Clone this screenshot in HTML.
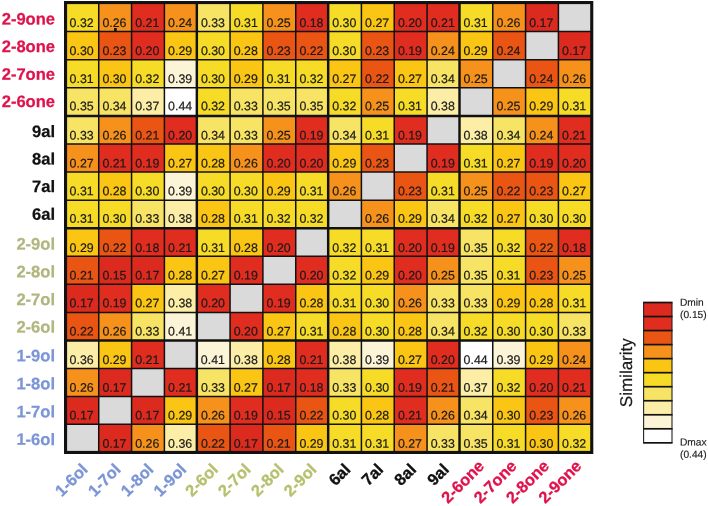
<!DOCTYPE html>
<html><head><meta charset="utf-8"><title>Similarity</title>
<style>html,body{margin:0;padding:0;background:#fff}svg{display:block}text{font-family:"Liberation Sans",Arial,sans-serif}</style></head><body>
<svg width="708" height="506" viewBox="0 0 708 506">
<rect width="708" height="506" fill="#fff"/>
<g shape-rendering="crispEdges">
<rect x="65.90" y="3.34" width="33.33" height="28.66" fill="#F6DC27"/>
<rect x="98.73" y="3.34" width="33.33" height="28.66" fill="#F6921C"/>
<rect x="131.57" y="3.34" width="33.33" height="28.66" fill="#E02D20"/>
<rect x="164.40" y="3.34" width="33.33" height="28.66" fill="#F6921C"/>
<rect x="197.24" y="3.34" width="33.33" height="28.66" fill="#F8E464"/>
<rect x="230.07" y="3.34" width="33.33" height="28.66" fill="#F6DC27"/>
<rect x="262.90" y="3.34" width="33.33" height="28.66" fill="#F6921C"/>
<rect x="295.74" y="3.34" width="33.33" height="28.66" fill="#E02D20"/>
<rect x="328.57" y="3.34" width="33.33" height="28.66" fill="#F6DC27"/>
<rect x="361.41" y="3.34" width="33.33" height="28.66" fill="#FBC513"/>
<rect x="394.24" y="3.34" width="33.33" height="28.66" fill="#E02D20"/>
<rect x="427.07" y="3.34" width="33.33" height="28.66" fill="#E02D20"/>
<rect x="459.91" y="3.34" width="33.33" height="28.66" fill="#F6DC27"/>
<rect x="492.74" y="3.34" width="33.33" height="28.66" fill="#F6921C"/>
<rect x="525.58" y="3.34" width="33.33" height="28.66" fill="#DC2B1E"/>
<rect x="558.41" y="3.34" width="33.33" height="28.66" fill="#D9DAD9"/>
<rect x="65.90" y="31.51" width="33.33" height="28.66" fill="#FBC513"/>
<rect x="98.73" y="31.51" width="33.33" height="28.66" fill="#EB5514"/>
<rect x="131.57" y="31.51" width="33.33" height="28.66" fill="#E02D20"/>
<rect x="164.40" y="31.51" width="33.33" height="28.66" fill="#FBC513"/>
<rect x="197.24" y="31.51" width="33.33" height="28.66" fill="#F6DC27"/>
<rect x="230.07" y="31.51" width="33.33" height="28.66" fill="#FBC513"/>
<rect x="262.90" y="31.51" width="33.33" height="28.66" fill="#EB5514"/>
<rect x="295.74" y="31.51" width="33.33" height="28.66" fill="#EB5514"/>
<rect x="328.57" y="31.51" width="33.33" height="28.66" fill="#F6DC27"/>
<rect x="361.41" y="31.51" width="33.33" height="28.66" fill="#EB5514"/>
<rect x="394.24" y="31.51" width="33.33" height="28.66" fill="#E02D20"/>
<rect x="427.07" y="31.51" width="33.33" height="28.66" fill="#F6921C"/>
<rect x="459.91" y="31.51" width="33.33" height="28.66" fill="#FBC513"/>
<rect x="492.74" y="31.51" width="33.33" height="28.66" fill="#EB5514"/>
<rect x="525.58" y="31.51" width="33.33" height="28.66" fill="#D9DAD9"/>
<rect x="558.41" y="31.51" width="33.33" height="28.66" fill="#DC2B1E"/>
<rect x="65.90" y="59.66" width="33.33" height="28.66" fill="#F6DC27"/>
<rect x="98.73" y="59.66" width="33.33" height="28.66" fill="#FBC513"/>
<rect x="131.57" y="59.66" width="33.33" height="28.66" fill="#F6DC27"/>
<rect x="164.40" y="59.66" width="33.33" height="28.66" fill="#FCF4D6"/>
<rect x="197.24" y="59.66" width="33.33" height="28.66" fill="#F6DC27"/>
<rect x="230.07" y="59.66" width="33.33" height="28.66" fill="#FBC513"/>
<rect x="262.90" y="59.66" width="33.33" height="28.66" fill="#F6DC27"/>
<rect x="295.74" y="59.66" width="33.33" height="28.66" fill="#F6DC27"/>
<rect x="328.57" y="59.66" width="33.33" height="28.66" fill="#FBC513"/>
<rect x="361.41" y="59.66" width="33.33" height="28.66" fill="#EB5514"/>
<rect x="394.24" y="59.66" width="33.33" height="28.66" fill="#FBC513"/>
<rect x="427.07" y="59.66" width="33.33" height="28.66" fill="#F8E464"/>
<rect x="459.91" y="59.66" width="33.33" height="28.66" fill="#F6921C"/>
<rect x="492.74" y="59.66" width="33.33" height="28.66" fill="#D9DAD9"/>
<rect x="525.58" y="59.66" width="33.33" height="28.66" fill="#EB5514"/>
<rect x="558.41" y="59.66" width="33.33" height="28.66" fill="#F6921C"/>
<rect x="65.90" y="87.79" width="33.33" height="28.66" fill="#F8E464"/>
<rect x="98.73" y="87.79" width="33.33" height="28.66" fill="#F8E464"/>
<rect x="131.57" y="87.79" width="33.33" height="28.66" fill="#FCEEA6"/>
<rect x="164.40" y="87.79" width="33.33" height="28.66" fill="#FFFFFF"/>
<rect x="197.24" y="87.79" width="33.33" height="28.66" fill="#F6DC27"/>
<rect x="230.07" y="87.79" width="33.33" height="28.66" fill="#F8E464"/>
<rect x="262.90" y="87.79" width="33.33" height="28.66" fill="#F8E464"/>
<rect x="295.74" y="87.79" width="33.33" height="28.66" fill="#F8E464"/>
<rect x="328.57" y="87.79" width="33.33" height="28.66" fill="#F6DC27"/>
<rect x="361.41" y="87.79" width="33.33" height="28.66" fill="#F6921C"/>
<rect x="394.24" y="87.79" width="33.33" height="28.66" fill="#F6DC27"/>
<rect x="427.07" y="87.79" width="33.33" height="28.66" fill="#FCEEA6"/>
<rect x="459.91" y="87.79" width="33.33" height="28.66" fill="#D9DAD9"/>
<rect x="492.74" y="87.79" width="33.33" height="28.66" fill="#F6921C"/>
<rect x="525.58" y="87.79" width="33.33" height="28.66" fill="#FBC513"/>
<rect x="558.41" y="87.79" width="33.33" height="28.66" fill="#F6DC27"/>
<rect x="65.90" y="115.92" width="33.33" height="28.66" fill="#F8E464"/>
<rect x="98.73" y="115.92" width="33.33" height="28.66" fill="#F6921C"/>
<rect x="131.57" y="115.92" width="33.33" height="28.66" fill="#EB5514"/>
<rect x="164.40" y="115.92" width="33.33" height="28.66" fill="#E02D20"/>
<rect x="197.24" y="115.92" width="33.33" height="28.66" fill="#F8E464"/>
<rect x="230.07" y="115.92" width="33.33" height="28.66" fill="#F8E464"/>
<rect x="262.90" y="115.92" width="33.33" height="28.66" fill="#F6921C"/>
<rect x="295.74" y="115.92" width="33.33" height="28.66" fill="#E02D20"/>
<rect x="328.57" y="115.92" width="33.33" height="28.66" fill="#F8E464"/>
<rect x="361.41" y="115.92" width="33.33" height="28.66" fill="#F6DC27"/>
<rect x="394.24" y="115.92" width="33.33" height="28.66" fill="#E02D20"/>
<rect x="427.07" y="115.92" width="33.33" height="28.66" fill="#D9DAD9"/>
<rect x="459.91" y="115.92" width="33.33" height="28.66" fill="#FCEEA6"/>
<rect x="492.74" y="115.92" width="33.33" height="28.66" fill="#F8E464"/>
<rect x="525.58" y="115.92" width="33.33" height="28.66" fill="#F6921C"/>
<rect x="558.41" y="115.92" width="33.33" height="28.66" fill="#E02D20"/>
<rect x="65.90" y="144.03" width="33.33" height="28.66" fill="#F6921C"/>
<rect x="98.73" y="144.03" width="33.33" height="28.66" fill="#E02D20"/>
<rect x="131.57" y="144.03" width="33.33" height="28.66" fill="#E02D20"/>
<rect x="164.40" y="144.03" width="33.33" height="28.66" fill="#FBC513"/>
<rect x="197.24" y="144.03" width="33.33" height="28.66" fill="#FBC513"/>
<rect x="230.07" y="144.03" width="33.33" height="28.66" fill="#F6921C"/>
<rect x="262.90" y="144.03" width="33.33" height="28.66" fill="#E02D20"/>
<rect x="295.74" y="144.03" width="33.33" height="28.66" fill="#E02D20"/>
<rect x="328.57" y="144.03" width="33.33" height="28.66" fill="#FBC513"/>
<rect x="361.41" y="144.03" width="33.33" height="28.66" fill="#EB5514"/>
<rect x="394.24" y="144.03" width="33.33" height="28.66" fill="#D9DAD9"/>
<rect x="427.07" y="144.03" width="33.33" height="28.66" fill="#E02D20"/>
<rect x="459.91" y="144.03" width="33.33" height="28.66" fill="#F6DC27"/>
<rect x="492.74" y="144.03" width="33.33" height="28.66" fill="#FBC513"/>
<rect x="525.58" y="144.03" width="33.33" height="28.66" fill="#E02D20"/>
<rect x="558.41" y="144.03" width="33.33" height="28.66" fill="#E02D20"/>
<rect x="65.90" y="172.12" width="33.33" height="28.66" fill="#F6DC27"/>
<rect x="98.73" y="172.12" width="33.33" height="28.66" fill="#FBC513"/>
<rect x="131.57" y="172.12" width="33.33" height="28.66" fill="#F6DC27"/>
<rect x="164.40" y="172.12" width="33.33" height="28.66" fill="#FCF4D6"/>
<rect x="197.24" y="172.12" width="33.33" height="28.66" fill="#F6DC27"/>
<rect x="230.07" y="172.12" width="33.33" height="28.66" fill="#F6DC27"/>
<rect x="262.90" y="172.12" width="33.33" height="28.66" fill="#FBC513"/>
<rect x="295.74" y="172.12" width="33.33" height="28.66" fill="#F6DC27"/>
<rect x="328.57" y="172.12" width="33.33" height="28.66" fill="#F6921C"/>
<rect x="361.41" y="172.12" width="33.33" height="28.66" fill="#D9DAD9"/>
<rect x="394.24" y="172.12" width="33.33" height="28.66" fill="#EB5514"/>
<rect x="427.07" y="172.12" width="33.33" height="28.66" fill="#F6DC27"/>
<rect x="459.91" y="172.12" width="33.33" height="28.66" fill="#F6921C"/>
<rect x="492.74" y="172.12" width="33.33" height="28.66" fill="#EB5514"/>
<rect x="525.58" y="172.12" width="33.33" height="28.66" fill="#EB5514"/>
<rect x="558.41" y="172.12" width="33.33" height="28.66" fill="#FBC513"/>
<rect x="65.90" y="200.20" width="33.33" height="28.66" fill="#F6DC27"/>
<rect x="98.73" y="200.20" width="33.33" height="28.66" fill="#F6DC27"/>
<rect x="131.57" y="200.20" width="33.33" height="28.66" fill="#F8E464"/>
<rect x="164.40" y="200.20" width="33.33" height="28.66" fill="#FCEEA6"/>
<rect x="197.24" y="200.20" width="33.33" height="28.66" fill="#FBC513"/>
<rect x="230.07" y="200.20" width="33.33" height="28.66" fill="#F6DC27"/>
<rect x="262.90" y="200.20" width="33.33" height="28.66" fill="#F6DC27"/>
<rect x="295.74" y="200.20" width="33.33" height="28.66" fill="#F6DC27"/>
<rect x="328.57" y="200.20" width="33.33" height="28.66" fill="#D9DAD9"/>
<rect x="361.41" y="200.20" width="33.33" height="28.66" fill="#F6921C"/>
<rect x="394.24" y="200.20" width="33.33" height="28.66" fill="#FBC513"/>
<rect x="427.07" y="200.20" width="33.33" height="28.66" fill="#F8E464"/>
<rect x="459.91" y="200.20" width="33.33" height="28.66" fill="#F6DC27"/>
<rect x="492.74" y="200.20" width="33.33" height="28.66" fill="#FBC513"/>
<rect x="525.58" y="200.20" width="33.33" height="28.66" fill="#F6DC27"/>
<rect x="558.41" y="200.20" width="33.33" height="28.66" fill="#F6DC27"/>
<rect x="65.90" y="228.27" width="33.33" height="28.66" fill="#FBC513"/>
<rect x="98.73" y="228.27" width="33.33" height="28.66" fill="#EB5514"/>
<rect x="131.57" y="228.27" width="33.33" height="28.66" fill="#E02D20"/>
<rect x="164.40" y="228.27" width="33.33" height="28.66" fill="#E02D20"/>
<rect x="197.24" y="228.27" width="33.33" height="28.66" fill="#F6DC27"/>
<rect x="230.07" y="228.27" width="33.33" height="28.66" fill="#FBC513"/>
<rect x="262.90" y="228.27" width="33.33" height="28.66" fill="#E02D20"/>
<rect x="295.74" y="228.27" width="33.33" height="28.66" fill="#D9DAD9"/>
<rect x="328.57" y="228.27" width="33.33" height="28.66" fill="#F6DC27"/>
<rect x="361.41" y="228.27" width="33.33" height="28.66" fill="#F6DC27"/>
<rect x="394.24" y="228.27" width="33.33" height="28.66" fill="#E02D20"/>
<rect x="427.07" y="228.27" width="33.33" height="28.66" fill="#E02D20"/>
<rect x="459.91" y="228.27" width="33.33" height="28.66" fill="#F8E464"/>
<rect x="492.74" y="228.27" width="33.33" height="28.66" fill="#F6DC27"/>
<rect x="525.58" y="228.27" width="33.33" height="28.66" fill="#EB5514"/>
<rect x="558.41" y="228.27" width="33.33" height="28.66" fill="#E02D20"/>
<rect x="65.90" y="256.32" width="33.33" height="28.66" fill="#EB5514"/>
<rect x="98.73" y="256.32" width="33.33" height="28.66" fill="#DC2B1E"/>
<rect x="131.57" y="256.32" width="33.33" height="28.66" fill="#DC2B1E"/>
<rect x="164.40" y="256.32" width="33.33" height="28.66" fill="#FBC513"/>
<rect x="197.24" y="256.32" width="33.33" height="28.66" fill="#FBC513"/>
<rect x="230.07" y="256.32" width="33.33" height="28.66" fill="#E02D20"/>
<rect x="262.90" y="256.32" width="33.33" height="28.66" fill="#D9DAD9"/>
<rect x="295.74" y="256.32" width="33.33" height="28.66" fill="#E02D20"/>
<rect x="328.57" y="256.32" width="33.33" height="28.66" fill="#F6DC27"/>
<rect x="361.41" y="256.32" width="33.33" height="28.66" fill="#FBC513"/>
<rect x="394.24" y="256.32" width="33.33" height="28.66" fill="#E02D20"/>
<rect x="427.07" y="256.32" width="33.33" height="28.66" fill="#F6921C"/>
<rect x="459.91" y="256.32" width="33.33" height="28.66" fill="#F8E464"/>
<rect x="492.74" y="256.32" width="33.33" height="28.66" fill="#F6DC27"/>
<rect x="525.58" y="256.32" width="33.33" height="28.66" fill="#EB5514"/>
<rect x="558.41" y="256.32" width="33.33" height="28.66" fill="#F6921C"/>
<rect x="65.90" y="284.36" width="33.33" height="28.66" fill="#DC2B1E"/>
<rect x="98.73" y="284.36" width="33.33" height="28.66" fill="#E02D20"/>
<rect x="131.57" y="284.36" width="33.33" height="28.66" fill="#FBC513"/>
<rect x="164.40" y="284.36" width="33.33" height="28.66" fill="#FCEEA6"/>
<rect x="197.24" y="284.36" width="33.33" height="28.66" fill="#E02D20"/>
<rect x="230.07" y="284.36" width="33.33" height="28.66" fill="#D9DAD9"/>
<rect x="262.90" y="284.36" width="33.33" height="28.66" fill="#E02D20"/>
<rect x="295.74" y="284.36" width="33.33" height="28.66" fill="#FBC513"/>
<rect x="328.57" y="284.36" width="33.33" height="28.66" fill="#F6DC27"/>
<rect x="361.41" y="284.36" width="33.33" height="28.66" fill="#F6DC27"/>
<rect x="394.24" y="284.36" width="33.33" height="28.66" fill="#F6921C"/>
<rect x="427.07" y="284.36" width="33.33" height="28.66" fill="#F8E464"/>
<rect x="459.91" y="284.36" width="33.33" height="28.66" fill="#F8E464"/>
<rect x="492.74" y="284.36" width="33.33" height="28.66" fill="#FBC513"/>
<rect x="525.58" y="284.36" width="33.33" height="28.66" fill="#FBC513"/>
<rect x="558.41" y="284.36" width="33.33" height="28.66" fill="#F6DC27"/>
<rect x="65.90" y="312.39" width="33.33" height="28.66" fill="#EB5514"/>
<rect x="98.73" y="312.39" width="33.33" height="28.66" fill="#F6921C"/>
<rect x="131.57" y="312.39" width="33.33" height="28.66" fill="#F8E464"/>
<rect x="164.40" y="312.39" width="33.33" height="28.66" fill="#FCF4D6"/>
<rect x="197.24" y="312.39" width="33.33" height="28.66" fill="#D9DAD9"/>
<rect x="230.07" y="312.39" width="33.33" height="28.66" fill="#E02D20"/>
<rect x="262.90" y="312.39" width="33.33" height="28.66" fill="#FBC513"/>
<rect x="295.74" y="312.39" width="33.33" height="28.66" fill="#F6DC27"/>
<rect x="328.57" y="312.39" width="33.33" height="28.66" fill="#FBC513"/>
<rect x="361.41" y="312.39" width="33.33" height="28.66" fill="#F6DC27"/>
<rect x="394.24" y="312.39" width="33.33" height="28.66" fill="#FBC513"/>
<rect x="427.07" y="312.39" width="33.33" height="28.66" fill="#F8E464"/>
<rect x="459.91" y="312.39" width="33.33" height="28.66" fill="#F6DC27"/>
<rect x="492.74" y="312.39" width="33.33" height="28.66" fill="#F6DC27"/>
<rect x="525.58" y="312.39" width="33.33" height="28.66" fill="#F6DC27"/>
<rect x="558.41" y="312.39" width="33.33" height="28.66" fill="#F8E464"/>
<rect x="65.90" y="340.40" width="33.33" height="28.66" fill="#FCEEA6"/>
<rect x="98.73" y="340.40" width="33.33" height="28.66" fill="#FBC513"/>
<rect x="131.57" y="340.40" width="33.33" height="28.66" fill="#E02D20"/>
<rect x="164.40" y="340.40" width="33.33" height="28.66" fill="#D9DAD9"/>
<rect x="197.24" y="340.40" width="33.33" height="28.66" fill="#FCF4D6"/>
<rect x="230.07" y="340.40" width="33.33" height="28.66" fill="#FCEEA6"/>
<rect x="262.90" y="340.40" width="33.33" height="28.66" fill="#FBC513"/>
<rect x="295.74" y="340.40" width="33.33" height="28.66" fill="#E02D20"/>
<rect x="328.57" y="340.40" width="33.33" height="28.66" fill="#FCEEA6"/>
<rect x="361.41" y="340.40" width="33.33" height="28.66" fill="#FCF4D6"/>
<rect x="394.24" y="340.40" width="33.33" height="28.66" fill="#FBC513"/>
<rect x="427.07" y="340.40" width="33.33" height="28.66" fill="#E02D20"/>
<rect x="459.91" y="340.40" width="33.33" height="28.66" fill="#FFFFFF"/>
<rect x="492.74" y="340.40" width="33.33" height="28.66" fill="#FCF4D6"/>
<rect x="525.58" y="340.40" width="33.33" height="28.66" fill="#FBC513"/>
<rect x="558.41" y="340.40" width="33.33" height="28.66" fill="#F6921C"/>
<rect x="65.90" y="368.39" width="33.33" height="28.66" fill="#F6921C"/>
<rect x="98.73" y="368.39" width="33.33" height="28.66" fill="#DC2B1E"/>
<rect x="131.57" y="368.39" width="33.33" height="28.66" fill="#D9DAD9"/>
<rect x="164.40" y="368.39" width="33.33" height="28.66" fill="#E02D20"/>
<rect x="197.24" y="368.39" width="33.33" height="28.66" fill="#F8E464"/>
<rect x="230.07" y="368.39" width="33.33" height="28.66" fill="#FBC513"/>
<rect x="262.90" y="368.39" width="33.33" height="28.66" fill="#DC2B1E"/>
<rect x="295.74" y="368.39" width="33.33" height="28.66" fill="#E02D20"/>
<rect x="328.57" y="368.39" width="33.33" height="28.66" fill="#F8E464"/>
<rect x="361.41" y="368.39" width="33.33" height="28.66" fill="#F6DC27"/>
<rect x="394.24" y="368.39" width="33.33" height="28.66" fill="#E02D20"/>
<rect x="427.07" y="368.39" width="33.33" height="28.66" fill="#EB5514"/>
<rect x="459.91" y="368.39" width="33.33" height="28.66" fill="#FCEEA6"/>
<rect x="492.74" y="368.39" width="33.33" height="28.66" fill="#F6DC27"/>
<rect x="525.58" y="368.39" width="33.33" height="28.66" fill="#E02D20"/>
<rect x="558.41" y="368.39" width="33.33" height="28.66" fill="#E02D20"/>
<rect x="65.90" y="396.38" width="33.33" height="28.66" fill="#DC2B1E"/>
<rect x="98.73" y="396.38" width="33.33" height="28.66" fill="#D9DAD9"/>
<rect x="131.57" y="396.38" width="33.33" height="28.66" fill="#DC2B1E"/>
<rect x="164.40" y="396.38" width="33.33" height="28.66" fill="#FBC513"/>
<rect x="197.24" y="396.38" width="33.33" height="28.66" fill="#F6921C"/>
<rect x="230.07" y="396.38" width="33.33" height="28.66" fill="#E02D20"/>
<rect x="262.90" y="396.38" width="33.33" height="28.66" fill="#DC2B1E"/>
<rect x="295.74" y="396.38" width="33.33" height="28.66" fill="#EB5514"/>
<rect x="328.57" y="396.38" width="33.33" height="28.66" fill="#F6DC27"/>
<rect x="361.41" y="396.38" width="33.33" height="28.66" fill="#FBC513"/>
<rect x="394.24" y="396.38" width="33.33" height="28.66" fill="#E02D20"/>
<rect x="427.07" y="396.38" width="33.33" height="28.66" fill="#F6921C"/>
<rect x="459.91" y="396.38" width="33.33" height="28.66" fill="#F8E464"/>
<rect x="492.74" y="396.38" width="33.33" height="28.66" fill="#FBC513"/>
<rect x="525.58" y="396.38" width="33.33" height="28.66" fill="#EB5514"/>
<rect x="558.41" y="396.38" width="33.33" height="28.66" fill="#F6921C"/>
<rect x="65.90" y="424.35" width="33.33" height="28.66" fill="#D9DAD9"/>
<rect x="98.73" y="424.35" width="33.33" height="28.66" fill="#DC2B1E"/>
<rect x="131.57" y="424.35" width="33.33" height="28.66" fill="#F6921C"/>
<rect x="164.40" y="424.35" width="33.33" height="28.66" fill="#FCEEA6"/>
<rect x="197.24" y="424.35" width="33.33" height="28.66" fill="#EB5514"/>
<rect x="230.07" y="424.35" width="33.33" height="28.66" fill="#DC2B1E"/>
<rect x="262.90" y="424.35" width="33.33" height="28.66" fill="#EB5514"/>
<rect x="295.74" y="424.35" width="33.33" height="28.66" fill="#FBC513"/>
<rect x="328.57" y="424.35" width="33.33" height="28.66" fill="#F6DC27"/>
<rect x="361.41" y="424.35" width="33.33" height="28.66" fill="#F6DC27"/>
<rect x="394.24" y="424.35" width="33.33" height="28.66" fill="#F6921C"/>
<rect x="427.07" y="424.35" width="33.33" height="28.66" fill="#F8E464"/>
<rect x="459.91" y="424.35" width="33.33" height="28.66" fill="#F8E464"/>
<rect x="492.74" y="424.35" width="33.33" height="28.66" fill="#F6DC27"/>
<rect x="525.58" y="424.35" width="33.33" height="28.66" fill="#FBC513"/>
<rect x="558.41" y="424.35" width="33.33" height="28.66" fill="#F6DC27"/>
</g>
<g stroke="#111" stroke-width="1.5">
<line x1="98.73" y1="3.34" x2="98.73" y2="452.29999999999995"/>
<line x1="65.9" y1="31.51" x2="591.244" y2="31.51"/>
<line x1="131.57" y1="3.34" x2="131.57" y2="452.29999999999995"/>
<line x1="65.9" y1="59.66" x2="591.244" y2="59.66"/>
<line x1="164.40" y1="3.34" x2="164.40" y2="452.29999999999995"/>
<line x1="65.9" y1="87.79" x2="591.244" y2="87.79"/>
<line x1="230.07" y1="3.34" x2="230.07" y2="452.29999999999995"/>
<line x1="65.9" y1="144.03" x2="591.244" y2="144.03"/>
<line x1="262.90" y1="3.34" x2="262.90" y2="452.29999999999995"/>
<line x1="65.9" y1="172.12" x2="591.244" y2="172.12"/>
<line x1="295.74" y1="3.34" x2="295.74" y2="452.29999999999995"/>
<line x1="65.9" y1="200.20" x2="591.244" y2="200.20"/>
<line x1="361.41" y1="3.34" x2="361.41" y2="452.29999999999995"/>
<line x1="65.9" y1="256.32" x2="591.244" y2="256.32"/>
<line x1="394.24" y1="3.34" x2="394.24" y2="452.29999999999995"/>
<line x1="65.9" y1="284.36" x2="591.244" y2="284.36"/>
<line x1="427.07" y1="3.34" x2="427.07" y2="452.29999999999995"/>
<line x1="65.9" y1="312.39" x2="591.244" y2="312.39"/>
<line x1="492.74" y1="3.34" x2="492.74" y2="452.29999999999995"/>
<line x1="65.9" y1="368.39" x2="591.244" y2="368.39"/>
<line x1="525.58" y1="3.34" x2="525.58" y2="452.29999999999995"/>
<line x1="65.9" y1="396.38" x2="591.244" y2="396.38"/>
<line x1="558.41" y1="3.34" x2="558.41" y2="452.29999999999995"/>
<line x1="65.9" y1="424.35" x2="591.244" y2="424.35"/>
</g>
<g stroke="#111" stroke-width="2.45">
<line x1="196.84" y1="3.34" x2="196.84" y2="452.29999999999995"/>
<line x1="65.9" y1="115.92" x2="591.244" y2="115.92"/>
<line x1="328.17" y1="3.34" x2="328.17" y2="452.29999999999995"/>
<line x1="65.9" y1="228.27" x2="591.244" y2="228.27"/>
<line x1="459.51" y1="3.34" x2="459.51" y2="452.29999999999995"/>
<line x1="65.9" y1="340.40" x2="591.244" y2="340.40"/>
</g>
<rect x="65.55" y="2.55" width="526.20" height="449.90" fill="none" stroke="#111" stroke-width="3.1"/>
<g font-size="12.4" fill="#1a1a1a" stroke="#1a1a1a" stroke-width="0.2" text-anchor="middle">
<text x="81.62" y="27.10" transform="rotate(0.03 81.62 27.10)">0.32</text>
<text x="114.45" y="27.10" transform="rotate(0.03 114.45 27.10)">0.26</text>
<text x="147.29" y="27.10" transform="rotate(0.03 147.29 27.10)">0.21</text>
<text x="180.12" y="27.10" transform="rotate(0.03 180.12 27.10)">0.24</text>
<text x="212.95" y="27.10" transform="rotate(0.03 212.95 27.10)">0.33</text>
<text x="245.79" y="27.10" transform="rotate(0.03 245.79 27.10)">0.31</text>
<text x="278.62" y="27.10" transform="rotate(0.03 278.62 27.10)">0.25</text>
<text x="311.46" y="27.10" transform="rotate(0.03 311.46 27.10)">0.18</text>
<text x="344.29" y="27.10" transform="rotate(0.03 344.29 27.10)">0.30</text>
<text x="377.12" y="27.10" transform="rotate(0.03 377.12 27.10)">0.27</text>
<text x="409.96" y="27.10" transform="rotate(0.03 409.96 27.10)">0.20</text>
<text x="442.79" y="27.10" transform="rotate(0.03 442.79 27.10)">0.21</text>
<text x="475.63" y="27.10" transform="rotate(0.03 475.63 27.10)">0.31</text>
<text x="508.46" y="27.10" transform="rotate(0.03 508.46 27.10)">0.26</text>
<text x="541.29" y="27.10" transform="rotate(0.03 541.29 27.10)">0.17</text>
<text x="81.62" y="54.90" transform="rotate(0.03 81.62 54.90)">0.30</text>
<text x="114.45" y="54.90" transform="rotate(0.03 114.45 54.90)">0.23</text>
<text x="147.29" y="54.90" transform="rotate(0.03 147.29 54.90)">0.20</text>
<text x="180.12" y="54.90" transform="rotate(0.03 180.12 54.90)">0.29</text>
<text x="212.95" y="54.90" transform="rotate(0.03 212.95 54.90)">0.30</text>
<text x="245.79" y="54.90" transform="rotate(0.03 245.79 54.90)">0.28</text>
<text x="278.62" y="54.90" transform="rotate(0.03 278.62 54.90)">0.23</text>
<text x="311.46" y="54.90" transform="rotate(0.03 311.46 54.90)">0.22</text>
<text x="344.29" y="54.90" transform="rotate(0.03 344.29 54.90)">0.30</text>
<text x="377.12" y="54.90" transform="rotate(0.03 377.12 54.90)">0.23</text>
<text x="409.96" y="54.90" transform="rotate(0.03 409.96 54.90)">0.19</text>
<text x="442.79" y="54.90" transform="rotate(0.03 442.79 54.90)">0.24</text>
<text x="475.63" y="54.90" transform="rotate(0.03 475.63 54.90)">0.29</text>
<text x="508.46" y="54.90" transform="rotate(0.03 508.46 54.90)">0.24</text>
<text x="574.13" y="54.90" transform="rotate(0.03 574.13 54.90)">0.17</text>
<text x="81.62" y="82.90" transform="rotate(0.03 81.62 82.90)">0.31</text>
<text x="114.45" y="82.90" transform="rotate(0.03 114.45 82.90)">0.30</text>
<text x="147.29" y="82.90" transform="rotate(0.03 147.29 82.90)">0.32</text>
<text x="180.12" y="82.90" transform="rotate(0.03 180.12 82.90)">0.39</text>
<text x="212.95" y="82.90" transform="rotate(0.03 212.95 82.90)">0.30</text>
<text x="245.79" y="82.90" transform="rotate(0.03 245.79 82.90)">0.29</text>
<text x="278.62" y="82.90" transform="rotate(0.03 278.62 82.90)">0.31</text>
<text x="311.46" y="82.90" transform="rotate(0.03 311.46 82.90)">0.32</text>
<text x="344.29" y="82.90" transform="rotate(0.03 344.29 82.90)">0.27</text>
<text x="377.12" y="82.90" transform="rotate(0.03 377.12 82.90)">0.22</text>
<text x="409.96" y="82.90" transform="rotate(0.03 409.96 82.90)">0.27</text>
<text x="442.79" y="82.90" transform="rotate(0.03 442.79 82.90)">0.34</text>
<text x="475.63" y="82.90" transform="rotate(0.03 475.63 82.90)">0.25</text>
<text x="541.29" y="82.90" transform="rotate(0.03 541.29 82.90)">0.24</text>
<text x="574.13" y="82.90" transform="rotate(0.03 574.13 82.90)">0.26</text>
<text x="81.62" y="110.30" transform="rotate(0.03 81.62 110.30)">0.35</text>
<text x="114.45" y="110.30" transform="rotate(0.03 114.45 110.30)">0.34</text>
<text x="147.29" y="110.30" transform="rotate(0.03 147.29 110.30)">0.37</text>
<text x="180.12" y="110.30" transform="rotate(0.03 180.12 110.30)">0.44</text>
<text x="212.95" y="110.30" transform="rotate(0.03 212.95 110.30)">0.32</text>
<text x="245.79" y="110.30" transform="rotate(0.03 245.79 110.30)">0.33</text>
<text x="278.62" y="110.30" transform="rotate(0.03 278.62 110.30)">0.35</text>
<text x="311.46" y="110.30" transform="rotate(0.03 311.46 110.30)">0.35</text>
<text x="344.29" y="110.30" transform="rotate(0.03 344.29 110.30)">0.32</text>
<text x="377.12" y="110.30" transform="rotate(0.03 377.12 110.30)">0.25</text>
<text x="409.96" y="110.30" transform="rotate(0.03 409.96 110.30)">0.31</text>
<text x="442.79" y="110.30" transform="rotate(0.03 442.79 110.30)">0.38</text>
<text x="508.46" y="110.30" transform="rotate(0.03 508.46 110.30)">0.25</text>
<text x="541.29" y="110.30" transform="rotate(0.03 541.29 110.30)">0.29</text>
<text x="574.13" y="110.30" transform="rotate(0.03 574.13 110.30)">0.31</text>
<text x="81.62" y="139.60" transform="rotate(0.03 81.62 139.60)">0.33</text>
<text x="114.45" y="139.60" transform="rotate(0.03 114.45 139.60)">0.26</text>
<text x="147.29" y="139.60" transform="rotate(0.03 147.29 139.60)">0.21</text>
<text x="180.12" y="139.60" transform="rotate(0.03 180.12 139.60)">0.20</text>
<text x="212.95" y="139.60" transform="rotate(0.03 212.95 139.60)">0.34</text>
<text x="245.79" y="139.60" transform="rotate(0.03 245.79 139.60)">0.33</text>
<text x="278.62" y="139.60" transform="rotate(0.03 278.62 139.60)">0.25</text>
<text x="311.46" y="139.60" transform="rotate(0.03 311.46 139.60)">0.19</text>
<text x="344.29" y="139.60" transform="rotate(0.03 344.29 139.60)">0.34</text>
<text x="377.12" y="139.60" transform="rotate(0.03 377.12 139.60)">0.31</text>
<text x="409.96" y="139.60" transform="rotate(0.03 409.96 139.60)">0.19</text>
<text x="475.63" y="139.60" transform="rotate(0.03 475.63 139.60)">0.38</text>
<text x="508.46" y="139.60" transform="rotate(0.03 508.46 139.60)">0.34</text>
<text x="541.29" y="139.60" transform="rotate(0.03 541.29 139.60)">0.24</text>
<text x="574.13" y="139.60" transform="rotate(0.03 574.13 139.60)">0.21</text>
<text x="81.62" y="167.50" transform="rotate(0.03 81.62 167.50)">0.27</text>
<text x="114.45" y="167.50" transform="rotate(0.03 114.45 167.50)">0.21</text>
<text x="147.29" y="167.50" transform="rotate(0.03 147.29 167.50)">0.19</text>
<text x="180.12" y="167.50" transform="rotate(0.03 180.12 167.50)">0.27</text>
<text x="212.95" y="167.50" transform="rotate(0.03 212.95 167.50)">0.28</text>
<text x="245.79" y="167.50" transform="rotate(0.03 245.79 167.50)">0.26</text>
<text x="278.62" y="167.50" transform="rotate(0.03 278.62 167.50)">0.20</text>
<text x="311.46" y="167.50" transform="rotate(0.03 311.46 167.50)">0.20</text>
<text x="344.29" y="167.50" transform="rotate(0.03 344.29 167.50)">0.29</text>
<text x="377.12" y="167.50" transform="rotate(0.03 377.12 167.50)">0.23</text>
<text x="442.79" y="167.50" transform="rotate(0.03 442.79 167.50)">0.19</text>
<text x="475.63" y="167.50" transform="rotate(0.03 475.63 167.50)">0.31</text>
<text x="508.46" y="167.50" transform="rotate(0.03 508.46 167.50)">0.27</text>
<text x="541.29" y="167.50" transform="rotate(0.03 541.29 167.50)">0.19</text>
<text x="574.13" y="167.50" transform="rotate(0.03 574.13 167.50)">0.20</text>
<text x="81.62" y="195.35" transform="rotate(0.03 81.62 195.35)">0.31</text>
<text x="114.45" y="195.35" transform="rotate(0.03 114.45 195.35)">0.28</text>
<text x="147.29" y="195.35" transform="rotate(0.03 147.29 195.35)">0.30</text>
<text x="180.12" y="195.35" transform="rotate(0.03 180.12 195.35)">0.39</text>
<text x="212.95" y="195.35" transform="rotate(0.03 212.95 195.35)">0.30</text>
<text x="245.79" y="195.35" transform="rotate(0.03 245.79 195.35)">0.30</text>
<text x="278.62" y="195.35" transform="rotate(0.03 278.62 195.35)">0.29</text>
<text x="311.46" y="195.35" transform="rotate(0.03 311.46 195.35)">0.31</text>
<text x="344.29" y="195.35" transform="rotate(0.03 344.29 195.35)">0.26</text>
<text x="409.96" y="195.35" transform="rotate(0.03 409.96 195.35)">0.23</text>
<text x="442.79" y="195.35" transform="rotate(0.03 442.79 195.35)">0.31</text>
<text x="475.63" y="195.35" transform="rotate(0.03 475.63 195.35)">0.25</text>
<text x="508.46" y="195.35" transform="rotate(0.03 508.46 195.35)">0.22</text>
<text x="541.29" y="195.35" transform="rotate(0.03 541.29 195.35)">0.23</text>
<text x="574.13" y="195.35" transform="rotate(0.03 574.13 195.35)">0.27</text>
<text x="81.62" y="222.70" transform="rotate(0.03 81.62 222.70)">0.31</text>
<text x="114.45" y="222.70" transform="rotate(0.03 114.45 222.70)">0.30</text>
<text x="147.29" y="222.70" transform="rotate(0.03 147.29 222.70)">0.33</text>
<text x="180.12" y="222.70" transform="rotate(0.03 180.12 222.70)">0.38</text>
<text x="212.95" y="222.70" transform="rotate(0.03 212.95 222.70)">0.28</text>
<text x="245.79" y="222.70" transform="rotate(0.03 245.79 222.70)">0.31</text>
<text x="278.62" y="222.70" transform="rotate(0.03 278.62 222.70)">0.32</text>
<text x="311.46" y="222.70" transform="rotate(0.03 311.46 222.70)">0.32</text>
<text x="377.12" y="222.70" transform="rotate(0.03 377.12 222.70)">0.26</text>
<text x="409.96" y="222.70" transform="rotate(0.03 409.96 222.70)">0.29</text>
<text x="442.79" y="222.70" transform="rotate(0.03 442.79 222.70)">0.34</text>
<text x="475.63" y="222.70" transform="rotate(0.03 475.63 222.70)">0.32</text>
<text x="508.46" y="222.70" transform="rotate(0.03 508.46 222.70)">0.27</text>
<text x="541.29" y="222.70" transform="rotate(0.03 541.29 222.70)">0.30</text>
<text x="574.13" y="222.70" transform="rotate(0.03 574.13 222.70)">0.30</text>
<text x="81.62" y="251.90" transform="rotate(0.03 81.62 251.90)">0.29</text>
<text x="114.45" y="251.90" transform="rotate(0.03 114.45 251.90)">0.22</text>
<text x="147.29" y="251.90" transform="rotate(0.03 147.29 251.90)">0.18</text>
<text x="180.12" y="251.90" transform="rotate(0.03 180.12 251.90)">0.21</text>
<text x="212.95" y="251.90" transform="rotate(0.03 212.95 251.90)">0.31</text>
<text x="245.79" y="251.90" transform="rotate(0.03 245.79 251.90)">0.28</text>
<text x="278.62" y="251.90" transform="rotate(0.03 278.62 251.90)">0.20</text>
<text x="344.29" y="251.90" transform="rotate(0.03 344.29 251.90)">0.32</text>
<text x="377.12" y="251.90" transform="rotate(0.03 377.12 251.90)">0.31</text>
<text x="409.96" y="251.90" transform="rotate(0.03 409.96 251.90)">0.20</text>
<text x="442.79" y="251.90" transform="rotate(0.03 442.79 251.90)">0.19</text>
<text x="475.63" y="251.90" transform="rotate(0.03 475.63 251.90)">0.35</text>
<text x="508.46" y="251.90" transform="rotate(0.03 508.46 251.90)">0.32</text>
<text x="541.29" y="251.90" transform="rotate(0.03 541.29 251.90)">0.22</text>
<text x="574.13" y="251.90" transform="rotate(0.03 574.13 251.90)">0.18</text>
<text x="81.62" y="279.50" transform="rotate(0.03 81.62 279.50)">0.21</text>
<text x="114.45" y="279.50" transform="rotate(0.03 114.45 279.50)">0.15</text>
<text x="147.29" y="279.50" transform="rotate(0.03 147.29 279.50)">0.17</text>
<text x="180.12" y="279.50" transform="rotate(0.03 180.12 279.50)">0.28</text>
<text x="212.95" y="279.50" transform="rotate(0.03 212.95 279.50)">0.27</text>
<text x="245.79" y="279.50" transform="rotate(0.03 245.79 279.50)">0.19</text>
<text x="311.46" y="279.50" transform="rotate(0.03 311.46 279.50)">0.20</text>
<text x="344.29" y="279.50" transform="rotate(0.03 344.29 279.50)">0.32</text>
<text x="377.12" y="279.50" transform="rotate(0.03 377.12 279.50)">0.29</text>
<text x="409.96" y="279.50" transform="rotate(0.03 409.96 279.50)">0.20</text>
<text x="442.79" y="279.50" transform="rotate(0.03 442.79 279.50)">0.25</text>
<text x="475.63" y="279.50" transform="rotate(0.03 475.63 279.50)">0.35</text>
<text x="508.46" y="279.50" transform="rotate(0.03 508.46 279.50)">0.31</text>
<text x="541.29" y="279.50" transform="rotate(0.03 541.29 279.50)">0.23</text>
<text x="574.13" y="279.50" transform="rotate(0.03 574.13 279.50)">0.25</text>
<text x="81.62" y="307.30" transform="rotate(0.03 81.62 307.30)">0.17</text>
<text x="114.45" y="307.30" transform="rotate(0.03 114.45 307.30)">0.19</text>
<text x="147.29" y="307.30" transform="rotate(0.03 147.29 307.30)">0.27</text>
<text x="180.12" y="307.30" transform="rotate(0.03 180.12 307.30)">0.38</text>
<text x="212.95" y="307.30" transform="rotate(0.03 212.95 307.30)">0.20</text>
<text x="278.62" y="307.30" transform="rotate(0.03 278.62 307.30)">0.19</text>
<text x="311.46" y="307.30" transform="rotate(0.03 311.46 307.30)">0.28</text>
<text x="344.29" y="307.30" transform="rotate(0.03 344.29 307.30)">0.31</text>
<text x="377.12" y="307.30" transform="rotate(0.03 377.12 307.30)">0.30</text>
<text x="409.96" y="307.30" transform="rotate(0.03 409.96 307.30)">0.26</text>
<text x="442.79" y="307.30" transform="rotate(0.03 442.79 307.30)">0.33</text>
<text x="475.63" y="307.30" transform="rotate(0.03 475.63 307.30)">0.33</text>
<text x="508.46" y="307.30" transform="rotate(0.03 508.46 307.30)">0.29</text>
<text x="541.29" y="307.30" transform="rotate(0.03 541.29 307.30)">0.28</text>
<text x="574.13" y="307.30" transform="rotate(0.03 574.13 307.30)">0.31</text>
<text x="81.62" y="335.55" transform="rotate(0.03 81.62 335.55)">0.22</text>
<text x="114.45" y="335.55" transform="rotate(0.03 114.45 335.55)">0.26</text>
<text x="147.29" y="335.55" transform="rotate(0.03 147.29 335.55)">0.33</text>
<text x="180.12" y="335.55" transform="rotate(0.03 180.12 335.55)">0.41</text>
<text x="245.79" y="335.55" transform="rotate(0.03 245.79 335.55)">0.20</text>
<text x="278.62" y="335.55" transform="rotate(0.03 278.62 335.55)">0.27</text>
<text x="311.46" y="335.55" transform="rotate(0.03 311.46 335.55)">0.31</text>
<text x="344.29" y="335.55" transform="rotate(0.03 344.29 335.55)">0.28</text>
<text x="377.12" y="335.55" transform="rotate(0.03 377.12 335.55)">0.30</text>
<text x="409.96" y="335.55" transform="rotate(0.03 409.96 335.55)">0.28</text>
<text x="442.79" y="335.55" transform="rotate(0.03 442.79 335.55)">0.34</text>
<text x="475.63" y="335.55" transform="rotate(0.03 475.63 335.55)">0.32</text>
<text x="508.46" y="335.55" transform="rotate(0.03 508.46 335.55)">0.30</text>
<text x="541.29" y="335.55" transform="rotate(0.03 541.29 335.55)">0.30</text>
<text x="574.13" y="335.55" transform="rotate(0.03 574.13 335.55)">0.33</text>
<text x="81.62" y="364.00" transform="rotate(0.03 81.62 364.00)">0.36</text>
<text x="114.45" y="364.00" transform="rotate(0.03 114.45 364.00)">0.29</text>
<text x="147.29" y="364.00" transform="rotate(0.03 147.29 364.00)">0.21</text>
<text x="212.95" y="364.00" transform="rotate(0.03 212.95 364.00)">0.41</text>
<text x="245.79" y="364.00" transform="rotate(0.03 245.79 364.00)">0.38</text>
<text x="278.62" y="364.00" transform="rotate(0.03 278.62 364.00)">0.28</text>
<text x="311.46" y="364.00" transform="rotate(0.03 311.46 364.00)">0.21</text>
<text x="344.29" y="364.00" transform="rotate(0.03 344.29 364.00)">0.38</text>
<text x="377.12" y="364.00" transform="rotate(0.03 377.12 364.00)">0.39</text>
<text x="409.96" y="364.00" transform="rotate(0.03 409.96 364.00)">0.27</text>
<text x="442.79" y="364.00" transform="rotate(0.03 442.79 364.00)">0.20</text>
<text x="475.63" y="364.00" transform="rotate(0.03 475.63 364.00)">0.44</text>
<text x="508.46" y="364.00" transform="rotate(0.03 508.46 364.00)">0.39</text>
<text x="541.29" y="364.00" transform="rotate(0.03 541.29 364.00)">0.29</text>
<text x="574.13" y="364.00" transform="rotate(0.03 574.13 364.00)">0.24</text>
<text x="81.62" y="391.75" transform="rotate(0.03 81.62 391.75)">0.26</text>
<text x="114.45" y="391.75" transform="rotate(0.03 114.45 391.75)">0.17</text>
<text x="180.12" y="391.75" transform="rotate(0.03 180.12 391.75)">0.21</text>
<text x="212.95" y="391.75" transform="rotate(0.03 212.95 391.75)">0.33</text>
<text x="245.79" y="391.75" transform="rotate(0.03 245.79 391.75)">0.27</text>
<text x="278.62" y="391.75" transform="rotate(0.03 278.62 391.75)">0.17</text>
<text x="311.46" y="391.75" transform="rotate(0.03 311.46 391.75)">0.18</text>
<text x="344.29" y="391.75" transform="rotate(0.03 344.29 391.75)">0.33</text>
<text x="377.12" y="391.75" transform="rotate(0.03 377.12 391.75)">0.30</text>
<text x="409.96" y="391.75" transform="rotate(0.03 409.96 391.75)">0.19</text>
<text x="442.79" y="391.75" transform="rotate(0.03 442.79 391.75)">0.21</text>
<text x="475.63" y="391.75" transform="rotate(0.03 475.63 391.75)">0.37</text>
<text x="508.46" y="391.75" transform="rotate(0.03 508.46 391.75)">0.32</text>
<text x="541.29" y="391.75" transform="rotate(0.03 541.29 391.75)">0.20</text>
<text x="574.13" y="391.75" transform="rotate(0.03 574.13 391.75)">0.21</text>
<text x="81.62" y="419.50" transform="rotate(0.03 81.62 419.50)">0.17</text>
<text x="147.29" y="419.50" transform="rotate(0.03 147.29 419.50)">0.17</text>
<text x="180.12" y="419.50" transform="rotate(0.03 180.12 419.50)">0.29</text>
<text x="212.95" y="419.50" transform="rotate(0.03 212.95 419.50)">0.26</text>
<text x="245.79" y="419.50" transform="rotate(0.03 245.79 419.50)">0.19</text>
<text x="278.62" y="419.50" transform="rotate(0.03 278.62 419.50)">0.15</text>
<text x="311.46" y="419.50" transform="rotate(0.03 311.46 419.50)">0.22</text>
<text x="344.29" y="419.50" transform="rotate(0.03 344.29 419.50)">0.30</text>
<text x="377.12" y="419.50" transform="rotate(0.03 377.12 419.50)">0.28</text>
<text x="409.96" y="419.50" transform="rotate(0.03 409.96 419.50)">0.21</text>
<text x="442.79" y="419.50" transform="rotate(0.03 442.79 419.50)">0.26</text>
<text x="475.63" y="419.50" transform="rotate(0.03 475.63 419.50)">0.34</text>
<text x="508.46" y="419.50" transform="rotate(0.03 508.46 419.50)">0.30</text>
<text x="541.29" y="419.50" transform="rotate(0.03 541.29 419.50)">0.23</text>
<text x="574.13" y="419.50" transform="rotate(0.03 574.13 419.50)">0.26</text>
<text x="114.45" y="447.80" transform="rotate(0.03 114.45 447.80)">0.17</text>
<text x="147.29" y="447.80" transform="rotate(0.03 147.29 447.80)">0.26</text>
<text x="180.12" y="447.80" transform="rotate(0.03 180.12 447.80)">0.36</text>
<text x="212.95" y="447.80" transform="rotate(0.03 212.95 447.80)">0.22</text>
<text x="245.79" y="447.80" transform="rotate(0.03 245.79 447.80)">0.17</text>
<text x="278.62" y="447.80" transform="rotate(0.03 278.62 447.80)">0.21</text>
<text x="311.46" y="447.80" transform="rotate(0.03 311.46 447.80)">0.29</text>
<text x="344.29" y="447.80" transform="rotate(0.03 344.29 447.80)">0.31</text>
<text x="377.12" y="447.80" transform="rotate(0.03 377.12 447.80)">0.31</text>
<text x="409.96" y="447.80" transform="rotate(0.03 409.96 447.80)">0.27</text>
<text x="442.79" y="447.80" transform="rotate(0.03 442.79 447.80)">0.33</text>
<text x="475.63" y="447.80" transform="rotate(0.03 475.63 447.80)">0.35</text>
<text x="508.46" y="447.80" transform="rotate(0.03 508.46 447.80)">0.31</text>
<text x="541.29" y="447.80" transform="rotate(0.03 541.29 447.80)">0.30</text>
<text x="574.13" y="447.80" transform="rotate(0.03 574.13 447.80)">0.32</text>
</g>
<rect x="114.1" y="28" width="2.6" height="3" fill="#111"/>
<g font-size="16.55" font-weight="bold" text-anchor="end" stroke-width="0.25">
<text x="55" y="24.50" transform="rotate(0.03 55 24.50)" fill="#E0124C" stroke="#E0124C">2-9one</text>
<text x="55" y="52.00" transform="rotate(0.03 55 52.00)" fill="#E0124C" stroke="#E0124C">2-8one</text>
<text x="55" y="79.70" transform="rotate(0.03 55 79.70)" fill="#E0124C" stroke="#E0124C">2-7one</text>
<text x="55" y="107.10" transform="rotate(0.03 55 107.10)" fill="#E0124C" stroke="#E0124C">2-6one</text>
<text x="55" y="137.00" transform="rotate(0.03 55 137.00)" fill="#111111" stroke="#111111">9al</text>
<text x="55" y="164.50" transform="rotate(0.03 55 164.50)" fill="#111111" stroke="#111111">8al</text>
<text x="55" y="192.10" transform="rotate(0.03 55 192.10)" fill="#111111" stroke="#111111">7al</text>
<text x="55" y="219.80" transform="rotate(0.03 55 219.80)" fill="#111111" stroke="#111111">6al</text>
<text x="55" y="249.50" transform="rotate(0.03 55 249.50)" fill="#B0B67E" stroke="#B0B67E">2-9ol</text>
<text x="55" y="277.25" transform="rotate(0.03 55 277.25)" fill="#B0B67E" stroke="#B0B67E">2-8ol</text>
<text x="55" y="305.00" transform="rotate(0.03 55 305.00)" fill="#B0B67E" stroke="#B0B67E">2-7ol</text>
<text x="55" y="332.60" transform="rotate(0.03 55 332.60)" fill="#B0B67E" stroke="#B0B67E">2-6ol</text>
<text x="55" y="361.30" transform="rotate(0.03 55 361.30)" fill="#7B95D6" stroke="#7B95D6">1-9ol</text>
<text x="55" y="389.30" transform="rotate(0.03 55 389.30)" fill="#7B95D6" stroke="#7B95D6">1-8ol</text>
<text x="55" y="417.20" transform="rotate(0.03 55 417.20)" fill="#7B95D6" stroke="#7B95D6">1-7ol</text>
<text x="55" y="444.90" transform="rotate(0.03 55 444.90)" fill="#7B95D6" stroke="#7B95D6">1-6ol</text>
</g>
<g font-size="16.35" font-weight="bold" text-anchor="end" stroke-width="0.3">
<text transform="translate(88.82,470.5) rotate(-45)" fill="#7B95D6" stroke="#7B95D6">1-6ol</text>
<text transform="translate(121.65,470.5) rotate(-45)" fill="#7B95D6" stroke="#7B95D6">1-7ol</text>
<text transform="translate(154.49,470.5) rotate(-45)" fill="#7B95D6" stroke="#7B95D6">1-8ol</text>
<text transform="translate(187.32,470.5) rotate(-45)" fill="#7B95D6" stroke="#7B95D6">1-9ol</text>
<text transform="translate(218.95,470.5) rotate(-45)" fill="#B7C06E" stroke="#B7C06E">2-6ol</text>
<text transform="translate(251.79,470.5) rotate(-45)" fill="#B7C06E" stroke="#B7C06E">2-7ol</text>
<text transform="translate(284.62,470.5) rotate(-45)" fill="#B7C06E" stroke="#B7C06E">2-8ol</text>
<text transform="translate(317.46,470.5) rotate(-45)" fill="#B7C06E" stroke="#B7C06E">2-9ol</text>
<text transform="translate(351.49,470.5) rotate(-45)" fill="#111111" stroke="#111111">6al</text>
<text transform="translate(384.32,470.5) rotate(-45)" fill="#111111" stroke="#111111">7al</text>
<text transform="translate(417.16,470.5) rotate(-45)" fill="#111111" stroke="#111111">8al</text>
<text transform="translate(449.99,470.5) rotate(-45)" fill="#111111" stroke="#111111">9al</text>
<text transform="translate(485.23,467.1) rotate(-45)" fill="#E0124C" stroke="#E0124C">2-6one</text>
<text transform="translate(517.66,467.1) rotate(-45)" fill="#E0124C" stroke="#E0124C">2-7one</text>
<text transform="translate(550.09,467.1) rotate(-45)" fill="#E0124C" stroke="#E0124C">2-8one</text>
<text transform="translate(582.53,467.1) rotate(-45)" fill="#E0124C" stroke="#E0124C">2-9one</text>
</g>
<rect x="643.6" y="302.50" width="28.40" height="14.34" fill="#DC2B1E"/>
<rect x="643.6" y="316.54" width="28.40" height="14.34" fill="#E02D20"/>
<rect x="643.6" y="330.57" width="28.40" height="14.34" fill="#EB5514"/>
<rect x="643.6" y="344.61" width="28.40" height="14.34" fill="#F6921C"/>
<rect x="643.6" y="358.64" width="28.40" height="14.34" fill="#FBC513"/>
<rect x="643.6" y="372.68" width="28.40" height="14.34" fill="#F6DC27"/>
<rect x="643.6" y="386.71" width="28.40" height="14.34" fill="#F8E464"/>
<rect x="643.6" y="400.75" width="28.40" height="14.34" fill="#FCEEA6"/>
<rect x="643.6" y="414.78" width="28.40" height="14.34" fill="#FCF4D6"/>
<rect x="643.6" y="428.81" width="28.40" height="14.34" fill="#FFFFFF"/>
<g stroke="#111" stroke-width="1.7">
<line x1="643.0500000000001" y1="302.50" x2="672.55" y2="302.50"/>
<line x1="643.0500000000001" y1="316.54" x2="672.55" y2="316.54"/>
<line x1="643.0500000000001" y1="330.57" x2="672.55" y2="330.57"/>
<line x1="643.0500000000001" y1="344.61" x2="672.55" y2="344.61"/>
<line x1="643.0500000000001" y1="358.64" x2="672.55" y2="358.64"/>
<line x1="643.0500000000001" y1="372.68" x2="672.55" y2="372.68"/>
<line x1="643.0500000000001" y1="386.71" x2="672.55" y2="386.71"/>
<line x1="643.0500000000001" y1="400.75" x2="672.55" y2="400.75"/>
<line x1="643.0500000000001" y1="414.78" x2="672.55" y2="414.78"/>
<line x1="643.0500000000001" y1="428.81" x2="672.55" y2="428.81"/>
<line x1="643.0500000000001" y1="442.85" x2="672.55" y2="442.85"/>
</g>
<g stroke="#222" stroke-width="1.1"><line x1="643.6" y1="302.5" x2="643.6" y2="442.85"/><line x1="672.0" y1="302.5" x2="672.0" y2="442.85"/></g>
<g font-size="10.2" fill="#1a1a1a" stroke="#1a1a1a" stroke-width="0.15">
<text x="680" y="305.7" transform="rotate(0.03 680 305.7)">Dmin</text><text x="680" y="318" transform="rotate(0.03 680 318)">(0.15)</text>
<text x="680" y="445.6" transform="rotate(0.03 680 445.6)">Dmax</text><text x="680" y="457.7" transform="rotate(0.03 680 457.7)">(0.44)</text>
</g>
<text transform="translate(632,372.7) rotate(-89.97)" font-size="17" fill="#1a1a1a" stroke="#1a1a1a" stroke-width="0.2" text-anchor="middle">Similarity</text>
</svg></body></html>
